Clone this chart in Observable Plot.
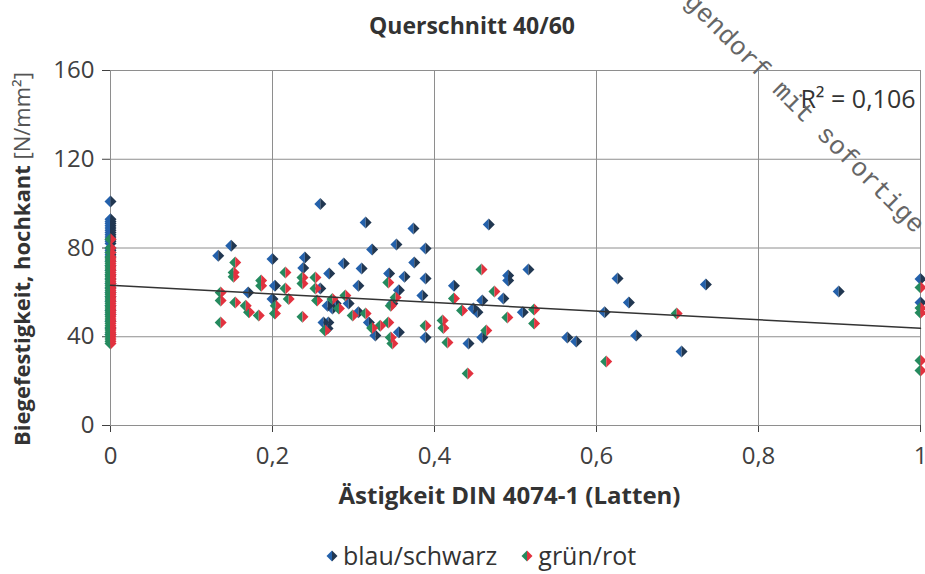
<!DOCTYPE html>
<html>
<head>
<meta charset="utf-8">
<script src="https://cdn.jsdelivr.net/npm/d3@7"></script>
<script src="https://cdn.jsdelivr.net/npm/@observablehq/plot@0.6"></script>
<style>
  body { margin: 0; background: #fff; font-family: "Open Sans", sans-serif; }
  #wrap { position: relative; width: 925px; height: 574px; overflow: hidden; background: #fff; }
  #title { position: absolute; left: 0; top: 9px; width: 944px; text-align: center; font-weight: bold; font-size: 23px; color: #333; }
  #chart { position: absolute; left: 0; top: 50px; }
  #legend { position: absolute; left: 0; top: 538px; width: 962px; text-align: center; font-size: 25px; color: #333; }
  #legend span.item { margin: 0 12px; white-space: nowrap; }
  #legend svg { vertical-align: middle; margin-right: 5px; position: relative; top: -2px; }
  #wm { position: absolute; left: 0; top: 0; pointer-events: none; }
</style>
</head>
<body>
<div id="wrap">
  <div id="title"></div>
  <div id="chart"></div>
  <div id="legend"></div>
  <svg id="wm" width="925" height="574"></svg>
</div>
<script>
// ---------- data ----------
const titleText = "Querschnitt 40/60";
const xLabel = "Ästigkeit DIN 4074-1 (Latten)";
const yLabelBold = "Biegefestigkeit, hochkant ";
const yLabelUnit = "[N/mm²]";
const r2Text = "R² = 0,106";
const seriesNames = ["blau/schwarz", "grün/rot"];
const watermarkText = "gendorf mit sofortige";

const xTicks = [0, 0.2, 0.4, 0.6, 0.8, 1];
const xTickLabels = ["0", "0,2", "0,4", "0,6", "0,8", "1"];
const yTicks = [0, 40, 80, 120, 160];

// blau/schwarz
const blauX = [
  0,0,0,0,0,0,0,0,0,0,0,0,0,0,0,0,0,0,0,0,0,0,0,0,0,0,0,0,0,0,0,0,0,0,
  0.133,0.149,0.2,0.17,0.203,0.2,0.24,0.238,0.259,0.27,0.268,0.269,0.268,0.278,
  0.288,0.31,0.315,0.323,0.353,0.374,0.389,0.375,0.344,0.363,0.389,0.306,0.356,
  0.385,0.259,0.274,0.294,0.306,0.319,0.327,0.356,0.389,0.348,0.263,
  0.467,0.424,0.491,0.491,0.516,0.485,0.459,0.448,0.453,0.509,0.442,0.459,
  0.564,0.575,0.61,0.626,0.64,0.649,0.705,0.735,0.899,1,1
];
const blauY = [
  101,93,92,91,90,89,88,87,86,85,84,83,82,80,79,78,77,76,74,72,70,68,66,64,62,60,58,56,54,52,50,47,44,41,
  76.5,81,75,60,63,57,75.7,71,99.8,68.5,54,46.4,43.7,55,
  73,70.8,91.5,79.3,81.6,88.8,79.8,73.5,68.5,67,66.2,63,61,
  58.6,61.7,52.7,55,51,46.4,40.6,42,39.7,55,46.4,
  90.6,63,67.6,65.3,70.3,57.2,56.3,52.7,51,51,37,39.7,
  39.7,37.9,51,66.2,55.4,40.6,33.4,63.5,60.4,66,55.4
];

// grün/rot
const gruenX = [
  0,0,0,0,0,0,0,0,0,0,0,0,0,0,0,0,0,0,0,0,0,0,0,0,0,0,0,0,0,0,0,0,0,0,0,0,0,0,0,0,0,0,0,
  0.136,0.136,0.136,0.154,0.152,0.152,0.154,0.167,0.171,0.183,0.186,0.186,0.204,0.203,
  0.216,0.216,0.22,0.237,0.237,0.237,0.253,0.253,0.255,0.29,0.282,0.299,0.315,0.323,
  0.333,0.343,0.346,0.348,0.352,0.346,0.343,0.389,0.265,0.274,
  0.458,0.474,0.424,0.434,0.49,0.523,0.523,0.41,0.411,0.416,0.464,0.441,
  0.612,0.699,1,1,1,1,1
];
const gruenY = [
  75,73,71,70,69,68,67,66,65,64,63,62,61,60,59,58,57,56,55,54,53,52,51,50,49,48,47,46,45,44,43,42,41,40,39,38,37,72,74,76,78,80,84,
  60,56.3,46.4,73.5,69,67,55.4,54,51,49.6,65.3,63,54,50.5,
  69,61.7,57,49,66.7,64,66.7,61.7,56.3,58.6,52.7,49.6,50.5,44,
  45,46.4,39.7,37,57.7,54,64.4,45,42.8,57,
  70.3,60.4,57.2,51.8,48.7,52.3,46,47.3,44,37.4,42.8,23.4,
  28.8,50.5,62.2,53,50.8,29.3,24.8
];

// linear trend line (as drawn in the reference)
const trendX = [0, 1];
const trendY = [63.2, 43.8];

// ---------- colours ----------
const blauLeft = "#2461ab", blauRight = "#213751";
const gruenLeft = "#258a5e", gruenRight = "#e2323f";

// ---------- build tables ----------
const blau = blauX.map((x, i) => ({x, y: blauY[i]}));
const gruen = gruenX.map((x, i) => ({x, y: gruenY[i]}));
const trend = trendX.map((x, i) => ({x, y: trendY[i]}));

// half-diamond symbols
const leftHalf = { draw(ctx, size) { const r = Math.sqrt(size / Math.PI); ctx.moveTo(0, -r); ctx.lineTo(-r, 0); ctx.lineTo(0, r); ctx.closePath(); } };
const rightHalf = { draw(ctx, size) { const r = Math.sqrt(size / Math.PI); ctx.moveTo(0, -r); ctx.lineTo(r, 0); ctx.lineTo(0, r); ctx.closePath(); } };

const R = 6;
const chart = Plot.plot({
  width: 925,
  height: 480,
  marginLeft: 110,
  marginRight: 5,
  marginTop: 20,
  marginBottom: 105,
  style: { overflow: "visible", fontFamily: "'Open Sans', sans-serif", fontSize: "24px", color: "#404040", background: "white" },
  x: { domain: [0, 1], ticks: xTicks, tickFormat: d => xTickLabels[xTicks.indexOf(d)], label: null, tickSize: 7, tickPadding: 14 },
  y: { domain: [0, 160], ticks: yTicks, label: null, tickSize: 8, tickPadding: 8 },
  marks: [
    Plot.ruleX(xTicks, { stroke: "#8e8e8e", strokeWidth: 1 }),
    Plot.ruleY(yTicks, { stroke: "#8e8e8e", strokeWidth: 1 }),
    Plot.dot(blau, { x: "x", y: "y", symbol: leftHalf, r: R, fill: blauLeft, stroke: "none" }),
    Plot.dot(blau, { x: "x", y: "y", symbol: rightHalf, r: R, fill: blauRight, stroke: "none" }),
    Plot.dot(gruen, { x: "x", y: "y", symbol: leftHalf, r: R, fill: gruenLeft, stroke: "none" }),
    Plot.dot(gruen, { x: "x", y: "y", symbol: rightHalf, r: R, fill: gruenRight, stroke: "none" }),
    Plot.line(trend, { x: "x", y: "y", stroke: "#333", strokeWidth: 1.5 }),
    Plot.text([r2Text], { frameAnchor: "top-right", dx: -5, dy: 20, fontSize: 25, fill: "#333" }),
    Plot.text([xLabel], { frameAnchor: "bottom", dy: 78, fontSize: 24, fontWeight: "bold", fill: "#333", dx: -6 })
  ]
});
document.getElementById("chart").appendChild(chart);

// y axis label with mixed weights
const svg = d3.select(chart);
const yl = svg.append("text")
  .attr("transform", "translate(30,209) rotate(-90)")
  .attr("text-anchor", "middle")
  .attr("font-family", "'Open Sans', sans-serif")
  .attr("font-size", 22)
  .attr("fill", "#333");
yl.append("tspan").attr("font-weight", "bold").text(yLabelBold);
yl.append("tspan").attr("font-weight", "normal").attr("fill", "#555").text(yLabelUnit);

// title
document.getElementById("title").textContent = titleText;

// legend
const legend = d3.select("#legend");
[[blauLeft, blauRight], [gruenLeft, gruenRight]].forEach((cols, i) => {
  const item = legend.append("span").attr("class", "item");
  const s = item.append("svg").attr("width", 12).attr("height", 12).attr("viewBox", "-6 -6 12 12");
  s.append("path").attr("d", "M0,-5.5L-5.5,0L0,5.5Z").attr("fill", cols[0]);
  s.append("path").attr("d", "M0,-5.5L5.5,0L0,5.5Z").attr("fill", cols[1]);
  item.append("span").text(seriesNames[i]);
});

// scanned watermark
d3.select("#wm").append("text")
  .attr("transform", "translate(688,-2) rotate(45)")
  .attr("dominant-baseline", "middle")
  .attr("font-family", "'Liberation Mono', monospace")
  .attr("font-size", 26)
  .attr("fill", "#666")
  .text(watermarkText);
</script>
</body>
</html>
